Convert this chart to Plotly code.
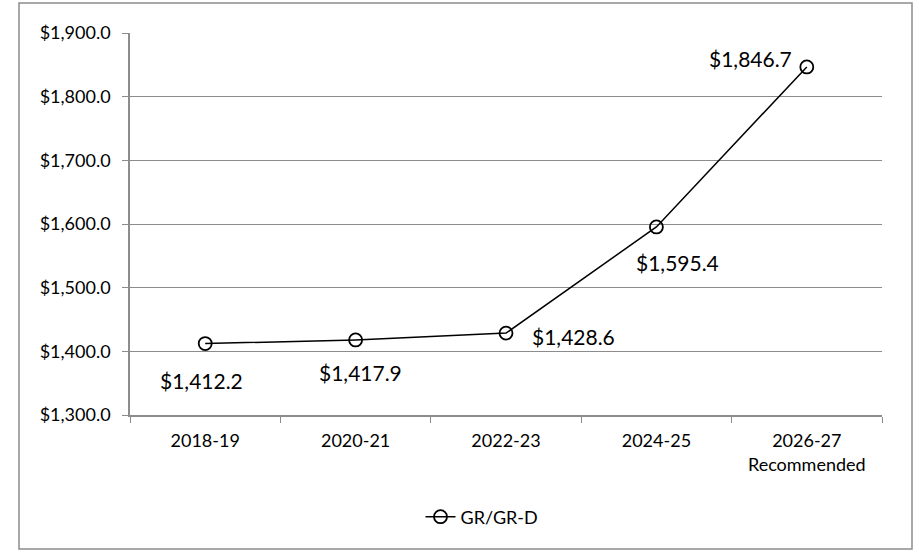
import plotly.graph_objects as go

categories = ["2018-19", "2020-21", "2022-23", "2024-25", "2026-27<br>Recommended"]
values = [1412.2, 1417.9, 1428.6, 1595.4, 1846.7]
labels = ["$1,412.2", "$1,417.9", "$1,428.6", "$1,595.4", "$1,846.7"]
series_name = "GR/GR-D"

# label offsets in pixels (style only)
label_dx = [-4, 5, 24, 21, -56]
label_dy = [-37, -33, -3, -36, 8]
label_xanchor = ["center", "center", "left", "center", "center"]

W, H = 919, 553
L, R, T, B = 130, 37, 33, 138
pw, ph = W - L - R, H - T - B

def px_x(x):
    return (x - L) / pw

def px_y(y):
    return (H - B - y) / ph

FONT = "Lato"
fig = go.Figure()
fig.add_trace(go.Scatter(
    x=categories, y=values, name=series_name,
    mode="lines+markers",
    line=dict(color="black", width=1.5),
    marker=dict(symbol="circle-open", size=13, color="black", line=dict(width=1.8)),
    cliponaxis=False,
))

annotations = []
for c, v, t, dx, dy, xa in zip(categories, values, labels, label_dx, label_dy, label_xanchor):
    annotations.append(dict(x=c, y=v, text=t, showarrow=False, xanchor=xa, yanchor="middle",
                            xshift=dx, yshift=dy,
                            font=dict(family=FONT, size=21, color="black")))

grid = "#8c8c8c"
fig.update_layout(
    width=W, height=H,
    margin=dict(l=L, r=R, t=T, b=B, autoexpand=False),
    paper_bgcolor="white", plot_bgcolor="white",
    font=dict(family=FONT, size=18, color="black"),
    showlegend=True,
    legend=dict(orientation="h", x=px_x(482), xanchor="center", y=px_y(517), yanchor="middle",
                font=dict(size=18), bgcolor="rgba(0,0,0,0)"),
    xaxis=dict(type="category", tickson="boundaries", ticks="outside", ticklen=6,
               tickcolor=grid, showline=True, linecolor=grid, linewidth=1.5,
               showgrid=False, range=[-0.5, 4.5], tickfont=dict(size=18),
               ticklabelstandoff=9),
    yaxis=dict(range=[1300, 1900], dtick=100, tickformat="$,.1f", ticks="outside",
               ticklen=6, tickcolor=grid, showline=True, linecolor=grid, linewidth=1.5,
               gridcolor=grid, gridwidth=1, zeroline=False, tickfont=dict(size=18),
               ticklabelstandoff=8),
    annotations=annotations,
    shapes=[dict(type="rect", xref="paper", yref="paper",
                 x0=px_x(19), x1=px_x(912), y0=px_y(549), y1=px_y(3),
                 line=dict(color="#8c8c8c", width=1.5), fillcolor="rgba(0,0,0,0)", layer="below")],
)

fig.write_html("out.html", config={"displayModeBar": False},
               post_script="document.body.style.margin='0';document.body.style.overflow='hidden';")
